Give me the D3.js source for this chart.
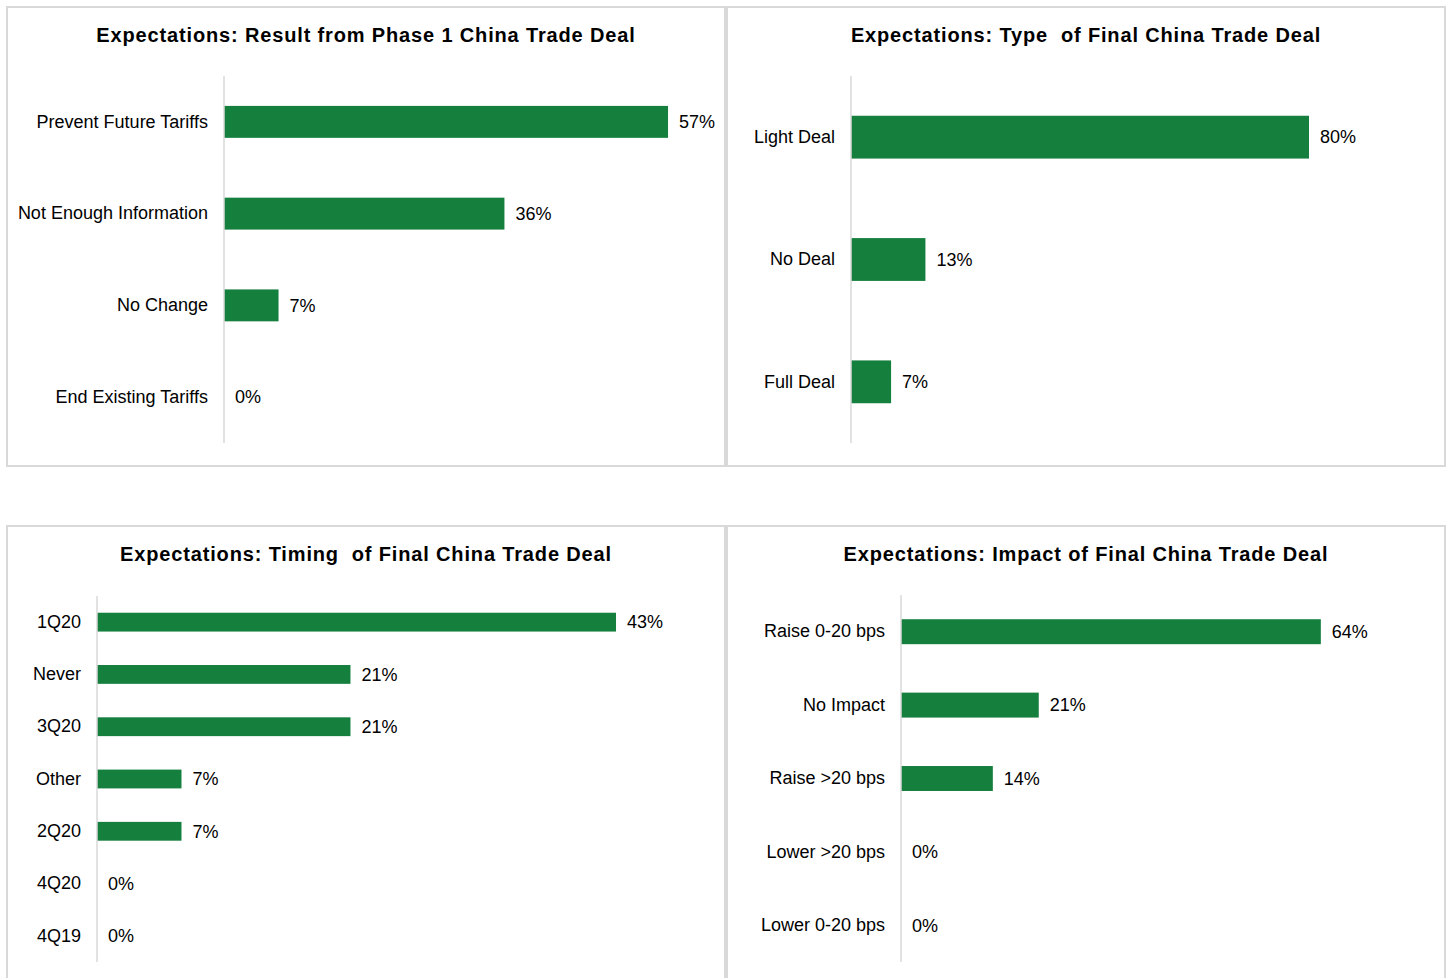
<!DOCTYPE html>
<html>
<head>
<meta charset="utf-8">
<script src="https://cdn.jsdelivr.net/npm/d3@7"></script>
<style>
  html, body { margin: 0; padding: 0; background: #fff; }
  svg { display: block; font-family: "Liberation Sans", Arial, sans-serif; }
</style>
</head>
<body>
<svg id="chart" width="1447" height="978"></svg>
<script>
// Survey results, one set of arrays per panel
const resultCategories = ["Prevent Future Tariffs", "Not Enough Information", "No Change", "End Existing Tariffs"];
const resultValues = [0.57, 0.36, 0.07, 0.00];

const typeCategories = ["Light Deal", "No Deal", "Full Deal"];
const typeValues = [0.80, 0.13, 0.07];

const timingCategories = ["1Q20", "Never", "3Q20", "Other", "2Q20", "4Q20", "4Q19"];
const timingValues = [0.43, 0.21, 0.21, 0.07, 0.07, 0.00, 0.00];

const impactCategories = ["Raise 0-20 bps", "No Impact", "Raise >20 bps", "Lower >20 bps", "Lower 0-20 bps"];
const impactValues = [0.64, 0.21, 0.14, 0.00, 0.00];

const titles = [
  "Expectations: Result from Phase 1 China Trade Deal",
  "Expectations: Type  of Final China Trade Deal",
  "Expectations: Timing  of Final China Trade Deal",
  "Expectations: Impact of Final China Trade Deal"
];

const BAR = "#157f3e";
const GRID = "#d9d9d9";
const svg = d3.select("#chart");

// Panel layout: frame box, plot area, bar thickness and scale span
const panels = [
  { title: titles[0], cats: resultCategories, vals: resultValues,
    box: [7, 7, 718, 459], x0: 224, x1: 224 + 779, y0: 76, y1: 443, pad: 0.652, titleY: 42 },
  { title: titles[1], cats: typeCategories, vals: typeValues,
    box: [727, 7, 718, 459], x0: 851, x1: 851 + 572.5, y0: 76, y1: 443, pad: 0.65, titleY: 42 },
  { title: titles[2], cats: timingCategories, vals: timingValues,
    box: [7, 526, 718, 470], x0: 97, x1: 97 + 1207, y0: 596, y1: 962, pad: 0.64, titleY: 561 },
  { title: titles[3], cats: impactCategories, vals: impactValues,
    box: [727, 526, 718, 470], x0: 901, x1: 901 + 656, y0: 595, y1: 962, pad: 0.66, titleY: 561 }
];

panels.forEach(p => {
  const g = svg.append("g");
  const [bx, by, bw, bh] = p.box;

  g.append("rect")
    .attr("x", bx).attr("y", by).attr("width", bw).attr("height", bh)
    .attr("fill", "#fff").attr("stroke", GRID).attr("stroke-width", 2);

  g.append("text")
    .attr("x", bx + bw / 2).attr("y", p.titleY)
    .attr("text-anchor", "middle")
    .attr("font-size", 20).attr("font-weight", "bold")
    .attr("letter-spacing", 0.85)
    .attr("fill", "#000")
    .style("white-space", "pre")
    .text(p.title);

  const x = d3.scaleLinear().domain([0, 1]).range([p.x0, p.x1]);
  const y = d3.scaleBand().domain(p.cats).range([p.y0, p.y1])
    .paddingInner(p.pad).paddingOuter(p.pad / 2);

  const data = p.cats.map((c, i) => ({ cat: c, val: p.vals[i] }));

  g.selectAll("rect.bar").data(data).join("rect")
    .attr("class", "bar")
    .attr("x", x(0))
    .attr("y", d => y(d.cat))
    .attr("width", d => x(d.val) - x(0))
    .attr("height", y.bandwidth())
    .attr("fill", BAR);

  // Category axis on the left
  const axis = d3.axisLeft(y).tickSize(0).tickPadding(16);
  const ax = g.append("g").attr("transform", `translate(${p.x0},0)`).call(axis);
  ax.select(".domain").attr("stroke", GRID).attr("stroke-width", 1.5)
    .attr("d", `M0,${p.y0}V${p.y1}`);
  ax.selectAll("text")
    .attr("font-size", 18)
    .attr("font-family", "Liberation Sans, Arial, sans-serif")
    .attr("fill", "#000");

  // Value labels at bar ends
  g.selectAll("text.val").data(data).join("text")
    .attr("class", "val")
    .attr("x", d => x(d.val) + 11)
    .attr("y", d => y(d.cat) + y.bandwidth() / 2)
    .attr("dy", "0.35em")
    .attr("font-size", 18)
    .attr("fill", "#000")
    .text(d => d3.format(".0%")(d.val));
});
</script>
</body>
</html>
